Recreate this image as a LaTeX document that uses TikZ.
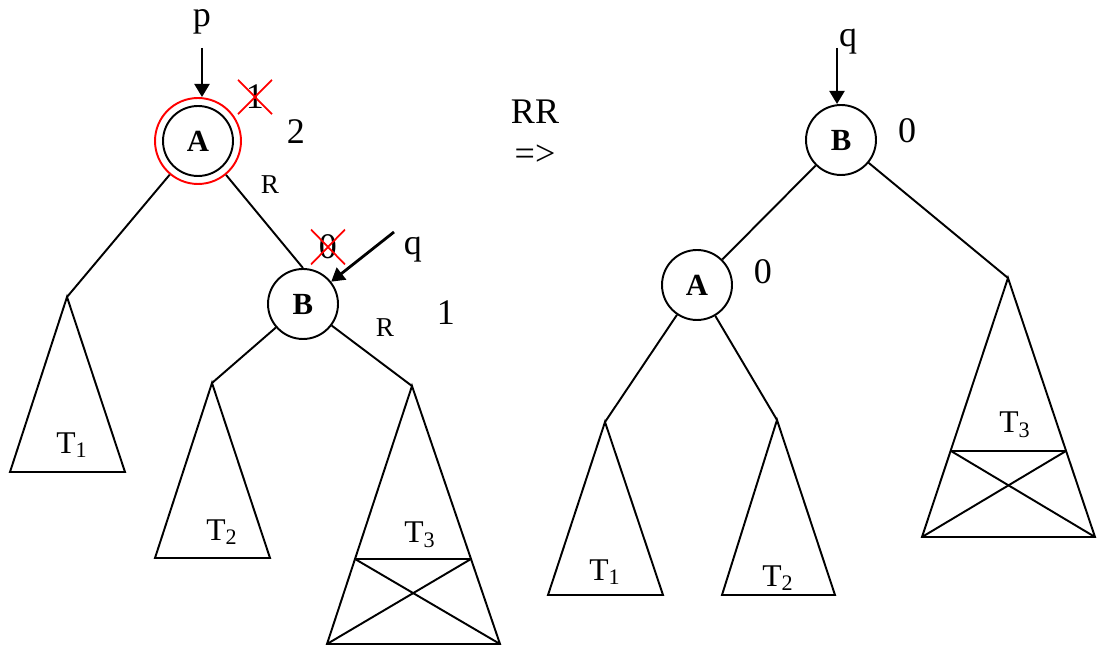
\documentclass[tikz,border=0pt]{standalone}
\usepackage{fontspec}
\setmainfont{Liberation Serif}
\usetikzlibrary{shapes.misc, arrows.meta}

\tikzset{
  avl/.style={circle, draw, line width=1.1pt, minimum size=1.4cm, inner sep=0pt,
    font=\fontsize{17.5}{17.5}\selectfont\bfseries},
  ring/.style={circle, draw=red, line width=1.1pt, minimum size=1.72cm, inner sep=0pt},
  big/.style={font=\fontsize{20.5}{20.5}\selectfont},
  sub/.style={font=\fontsize{18}{18}\selectfont},
  rlab/.style={font=\fontsize{15.5}{15.5}\selectfont},
  struck/.style={cross out, draw=red, line width=1pt, inner xsep=4pt, inner ysep=2.5pt},
  ptr/.style={-{Triangle[length=7.5pt, width=8.5pt]}, line width=1.6pt},
  link/.style={line width=1.1pt}
}

\begin{document}
\begin{tikzpicture}[x=0.02cm, y=-0.02cm]
  \useasboundingbox (0,0) rectangle (1100,648);

  % Left tree (before)
  \node[avl] (A1) at (198,141) {A};
  \node[ring] (A1r) at (198,141) {};
  \node[avl] (B1) at (303,304) {B};

  % Pointers
  \node[big] (p) at (202,22) {p};
  \coordinate (ptop) at (202,48);
  \draw[ptr] (ptop) -- (ptop |- A1r.north);
  \node[big] (q1) at (413,250) {q};
  \coordinate (qtop) at (394,232);
  \draw[ptr] (qtop) -- (B1);

  % Balance factors
  \node[big, struck] (oldA1) at (255,97) {1};
  \node[big] (bfA1) at (296,132) {2};
  \node[rlab] (rA1) at (270,185) {R};
  \node[big, struck] (oldB1) at (328,247) {0};
  \node[big] (bfB1) at (446,313) {1};
  \node[rlab] (rB1) at (385,328) {R};

  % Links
  \coordinate (t1) at (67,297);
  \coordinate (t2) at (212,383);
  \coordinate (t3) at (412,386);
  \draw[link] (A1r) -- (t1);
  \draw[link] (A1r) -- (B1.north);
  \draw[link] (B1) -- (t2);
  \draw[link] (B1) -- (t3);

  % Subtrees
  \draw[link] (t1) -- (10,472) -- (125,472) -- cycle;
  \node[sub] (T1) at (72,445) {T\textsubscript{1}};
  \draw[link] (t2) -- (155,558) -- (270,558) -- cycle;
  \node[sub] (T2) at (222,532) {T\textsubscript{2}};
  \draw[link] (t3) -- (327,644) -- (500,644) -- cycle;
  \draw[link] (355,559) -- (471,559);
  \draw[link] (355,559) -- (500,644);
  \draw[link] (471,559) -- (327,644);
  \node[sub] (T3) at (420,535) {T\textsubscript{3}};

  % Rotation
  \node[big] (rr) at (535,112) {RR};
  \node[big] (arrow) at (535,155) {=>};

  % Right tree (after)
  \node[avl] (B2) at (841,140) {B};
  \node[avl] (A2) at (697,285) {A};
  \node[big] (q2) at (848,42) {q};
  \coordinate (qs) at (837,48);
  \draw[ptr] (qs) -- (qs |- B2.north);
  \node[big] (bfB2) at (907,131) {0};
  \node[big] (bfA2) at (763,272) {0};

  \coordinate (s1) at (605,422);
  \coordinate (s2) at (777,420);
  \coordinate (s3) at (1008,278);
  \draw[link] (B2) -- (A2);
  \draw[link] (B2) -- (s3);
  \draw[link] (A2) -- (s1);
  \draw[link] (A2) -- (s2);

  \draw[link] (s1) -- (548,595) -- (663,595) -- cycle;
  \node[sub] (S1) at (605,572) {T\textsubscript{1}};
  \draw[link] (s2) -- (722,595) -- (835,595) -- cycle;
  \node[sub] (S2) at (778,578) {T\textsubscript{2}};
  \draw[link] (s3) -- (922,537) -- (1095,537) -- cycle;
  \draw[link] (951,451) -- (1066,451);
  \draw[link] (951,451) -- (1095,537);
  \draw[link] (1066,451) -- (922,537);
  \node[sub] (S3) at (1015,425) {T\textsubscript{3}};
\end{tikzpicture}
\end{document}
